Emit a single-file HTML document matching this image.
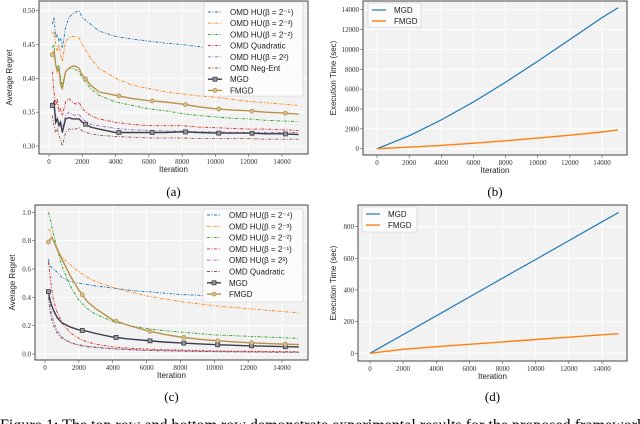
<!DOCTYPE html>
<html><head><meta charset="utf-8"><style>
html,body{margin:0;padding:0;background:#fff;}
svg{display:block;font-family:"Liberation Serif",serif;}
.tk{font-size:7px;fill:#333;}
.lab{font-family:"Liberation Sans",sans-serif;font-size:8px;fill:#222;}
.leg{font-family:"Liberation Sans",sans-serif;font-size:8px;fill:#222;}
</style></head><body>
<svg id="fig" width="640" height="424" viewBox="0 0 640 424" xmlns="http://www.w3.org/2000/svg">
<text x="0" y="430" font-size="16" textLength="645" lengthAdjust="spacingAndGlyphs">Figure 1: The top row and bottom row demonstrate experimental results for the proposed framework</text>
</svg>
<script>
// ---- Panel (a) data ----
const aX=[200,300,400,500,600,700,800,1000,1200,1400,1600,1800,2000,2500,3000,4000,5000,6000,7000,8000,9000,10000,11000,12000,13000,14000,15000];
const aHUm5=[0.48,0.49,0.46,0.465,0.455,0.46,0.445,0.475,0.49,0.495,0.498,0.50,0.49,0.48,0.47,0.462,0.458,0.455,0.452,0.45,0.447,0.444,0.441,0.438,0.435,0.43,0.428];
const aHUm3=[0.465,0.47,0.45,0.44,0.45,0.435,0.425,0.455,0.46,0.462,0.462,0.46,0.45,0.43,0.415,0.40,0.39,0.385,0.38,0.377,0.374,0.372,0.369,0.366,0.364,0.362,0.36];
const aHUm2=[0.445,0.45,0.42,0.415,0.42,0.40,0.39,0.41,0.415,0.415,0.413,0.41,0.40,0.385,0.375,0.365,0.36,0.355,0.352,0.348,0.345,0.343,0.341,0.34,0.338,0.337,0.336];
const aQuad=[0.41,0.38,0.36,0.37,0.35,0.355,0.345,0.365,0.37,0.365,0.362,0.365,0.355,0.345,0.34,0.335,0.332,0.33,0.33,0.33,0.328,0.327,0.326,0.325,0.325,0.324,0.323];
const aHU2=[0.36,0.355,0.345,0.34,0.335,0.33,0.325,0.345,0.35,0.347,0.345,0.347,0.34,0.332,0.33,0.326,0.324,0.323,0.322,0.322,0.321,0.321,0.32,0.32,0.32,0.32,0.32];
const aNeg=[0.345,0.33,0.32,0.325,0.315,0.31,0.30,0.32,0.325,0.325,0.325,0.327,0.322,0.318,0.316,0.314,0.313,0.312,0.312,0.312,0.311,0.311,0.311,0.311,0.31,0.31,0.31];
const aMGD=[0.36,0.365,0.335,0.34,0.33,0.335,0.32,0.34,0.342,0.34,0.34,0.34,0.335,0.328,0.325,0.32,0.32,0.32,0.32,0.321,0.32,0.319,0.319,0.319,0.318,0.318,0.317];
const aFMGD=[0.435,0.44,0.42,0.41,0.415,0.39,0.385,0.41,0.415,0.418,0.418,0.415,0.405,0.39,0.38,0.375,0.37,0.367,0.365,0.362,0.358,0.355,0.353,0.352,0.35,0.349,0.347];
const aYTicks=[0.30,0.35,0.40,0.45,0.50];
const aYLabels=["0.30","0.35","0.40","0.45","0.50"];
// ---- Panel (c) data ----
const cX=[200,300,400,500,700,1000,1500,2000,2500,3000,4000,5000,6000,7000,8000,9000,10000,11000,12000,13000,14000,15000];
const cHUm4=[0.67,0.62,0.61,0.6,0.58,0.54,0.51,0.5,0.49,0.48,0.465,0.45,0.44,0.43,0.42,0.415,0.41,0.405,0.40,0.395,0.392,0.39];
const cHUm3=[0.88,0.87,0.83,0.8,0.75,0.68,0.63,0.58,0.54,0.51,0.47,0.44,0.41,0.39,0.37,0.355,0.34,0.33,0.32,0.31,0.30,0.29];
const cHUm2=[1.0,0.96,0.9,0.85,0.75,0.62,0.48,0.38,0.32,0.28,0.23,0.2,0.18,0.165,0.155,0.145,0.135,0.13,0.125,0.12,0.115,0.11];
const cHUm1=[0.65,0.55,0.45,0.38,0.3,0.22,0.15,0.11,0.085,0.07,0.05,0.04,0.035,0.03,0.028,0.025,0.022,0.02,0.02,0.018,0.017,0.016];
const cHU3=[0.45,0.35,0.28,0.23,0.17,0.12,0.08,0.06,0.05,0.045,0.035,0.03,0.025,0.022,0.02,0.018,0.016,0.015,0.014,0.013,0.012,0.012];
const cQuad=[0.4,0.3,0.24,0.2,0.15,0.11,0.08,0.065,0.055,0.048,0.038,0.032,0.027,0.024,0.021,0.019,0.017,0.016,0.015,0.014,0.013,0.013];
const cMGD=[0.44,0.38,0.34,0.31,0.26,0.22,0.19,0.17,0.16,0.145,0.12,0.105,0.095,0.085,0.078,0.072,0.066,0.062,0.058,0.055,0.052,0.05];
const cFMGD=[0.79,0.81,0.82,0.8,0.74,0.67,0.55,0.45,0.37,0.32,0.24,0.2,0.165,0.14,0.12,0.105,0.095,0.087,0.08,0.075,0.07,0.066];
const cYTicks=[0,0.2,0.4,0.6,0.8,1.0];
const cYLabels=["0.0","0.2","0.4","0.6","0.8","1.0"];
// ---- Panel (b) data ----
const bX=[0,2000,4000,6000,8000,10000,12000,14000,15000];
const bMGD=[0,1300,2900,4700,6700,8800,11000,13200,14200];
const bFMGD=[0,150,330,550,800,1070,1360,1680,1900];
const bYTicks=[0,2000,4000,6000,8000,10000,12000,14000];
// ---- Panel (d) data ----
const dX=[0,2000,4000,6000,8000,10000,12000,14000,15000];
const dMGD=[0,118,237,356,475,593,712,831,890];
const dFMGD=[0,25,42,57,72,87,102,117,124];
const dYTicks=[0,200,400,600,800];
const xTicks=[0,2000,4000,6000,8000,10000,12000,14000];
const markerX=[200,2200,4200,6200,8200,10200,12200,14200];

const NS="http://www.w3.org/2000/svg";
const fig=document.getElementById('fig');
function mk(tag,attrs,parent){const e=document.createElementNS(NS,tag);for(const k in attrs)e.setAttribute(k,attrs[k]);(parent||fig).appendChild(e);return e;}
function interp(xs,ys,v){for(let i=1;i<xs.length;i++){if(v<=xs[i]){const t=(v-xs[i-1])/(xs[i]-xs[i-1]);return ys[i-1]+t*(ys[i]-ys[i-1]);}}return ys[ys.length-1];}
const C={blue:"#1f77b4",orange:"#ff7f0e",green:"#2ca02c",red:"#d62728",purple:"#9467bd",brown:"#8c564b",mgd:"#3c3c4c",fmgd:"#b8924a"};

function panel(P){
  const g=mk('g',{});
  
  
  const sx=v=>P.x0+(v-0)*(P.x14-P.x0)/14000;
  const sy=v=>P.yA+(v-P.vA)*(P.yB-P.yA)/(P.vB-P.vA);
  const bg=mk('rect',{x:P.L,y:P.T,width:P.R-P.L,height:P.B-P.T,fill:"#f2f2f2"},g);
  
  
  xTicks.forEach(t=>{
    mk('line',{x1:sx(t),x2:sx(t),y1:P.T,y2:P.B,stroke:"#fff","stroke-width":1},g);
    mk('line',{x1:sx(t),x2:sx(t),y1:P.B,y2:P.B+3,stroke:"#555","stroke-width":0.6},g);
    const tx=mk('text',{x:sx(t),y:P.B+10,"text-anchor":"middle",class:"tk"},g);tx.textContent=String(t);
    
    
  });
  P.yt.forEach((t,i)=>{
    mk('line',{x1:P.L,x2:P.R,y1:sy(t),y2:sy(t),stroke:"#fff","stroke-width":1},g);
    mk('line',{x1:P.L-3,x2:P.L,y1:sy(t),y2:sy(t),stroke:"#555","stroke-width":0.6},g);
    const tx=mk('text',{x:P.L-4,y:sy(t)+2.5,"text-anchor":"end",class:"tk"},g);tx.textContent=P.yl?P.yl[i]:String(t);
    
    
  });
  P.series.forEach(s=>{
    const d=s.x.map((v,i)=>(i?'L':'M')+sx(v).toFixed(1)+','+sy(s.y[i]).toFixed(1)).join('');
    const p=mk('path',{d:d,fill:"none",stroke:s.c,"stroke-width":s.w||0.9},g);
    if(s.dash)p.setAttribute('stroke-dasharray',"3,1.5,1,1.5");
    
    
    if(s.mk){markerX.forEach(v=>{const yv=interp(s.x,s.y,v);
      const m=mk(s.mk==='sq'?'rect':'circle',s.mk==='sq'?{x:sx(v)-2,y:sy(yv)-2,width:4,height:4,fill:"#999",stroke:s.c,"stroke-width":0.8}:{cx:sx(v),cy:sy(yv),r:2,fill:"#d8c090",stroke:s.c,"stroke-width":0.8},g);
      
      });}
  });
  const fr=mk('rect',{x:P.L,y:P.T,width:P.R-P.L,height:P.B-P.T,fill:"none",stroke:"#444","stroke-width":1},g);
  
  
  const xl=mk('text',{x:(P.L+P.R)/2,y:P.B+18,"text-anchor":"middle",class:"lab"},g);xl.textContent="Iteration";
  
  
  const yc=(P.T+P.B)/2;
  const yl=mk('text',{x:P.ylx,y:yc,"text-anchor":"middle",class:"lab",transform:`rotate(-90 ${P.ylx} ${yc})`},g);yl.textContent=P.ytitle;
  
  
  const cap=mk('text',{x:(P.L+P.R)/2,y:P.capY,"text-anchor":"middle","font-size":"13"},g);cap.textContent=P.cap;
  
  
  const lg=mk('g',{},g);
  
  
  mk('rect',{x:P.lg.x,y:P.lg.y,width:P.lg.w,height:P.lg.h,fill:"#fcfcfc",stroke:"#ccc","stroke-width":0.6,rx:1.5},lg);
  P.series.forEach((s,i)=>{
    const yy=P.lg.y+P.lg.y0+i*P.lg.dy;
    const ln=mk('line',{x1:P.lg.x+4,x2:P.lg.x+18,y1:yy,y2:yy,stroke:s.c,"stroke-width":s.w||0.9},lg);
    if(s.dash)ln.setAttribute('stroke-dasharray',"3,1.5,1,1.5");
    if(s.mk){mk(s.mk==='sq'?'rect':'circle',s.mk==='sq'?{x:P.lg.x+9,y:yy-2,width:4,height:4,fill:"#999",stroke:s.c,"stroke-width":0.8}:{cx:P.lg.x+11,cy:yy,r:2,fill:"#d8c090",stroke:s.c,"stroke-width":0.8},lg);}
    const t=mk('text',{x:P.lg.x+26,y:yy+3,class:"leg"},lg);t.textContent=s.label;
    
    
  });
}

panel({name:"panel-a",L:39,R:308,T:1,B:154,x0:49,x14:282,vA:0.50,yA:10.7,vB:0.30,yB:146,yt:aYTicks,yl:aYLabels,ylx:12,ytitle:"Average Regret",cap:"(a)",capY:196,
 lg:{x:204,y:2,w:99,h:94,y0:10,dy:11.2},
 series:[
  {id:"hu-m5",x:aX,y:aHUm5,c:C.blue,dash:1,label:"OMD HU(\u03B2 = 2\u207B\u2075)"},
  {id:"hu-m3",x:aX,y:aHUm3,c:C.orange,dash:1,label:"OMD HU(\u03B2 = 2\u207B\u00B3)"},
  {id:"hu-m2",x:aX,y:aHUm2,c:C.green,dash:1,label:"OMD HU(\u03B2 = 2\u207B\u00B2)"},
  {id:"quad",x:aX,y:aQuad,c:C.red,dash:1,label:"OMD Quadratic"},
  {id:"hu-2",x:aX,y:aHU2,c:C.purple,dash:1,label:"OMD HU(\u03B2 = 2\u00B2)"},
  {id:"negent",x:aX,y:aNeg,c:C.brown,dash:1,label:"OMD Neg-Ent"},
  {id:"mgd",x:aX,y:aMGD,c:C.mgd,w:1.4,mk:'sq',label:"MGD"},
  {id:"fmgd",x:aX,y:aFMGD,c:C.fmgd,w:1.4,mk:'ci',label:"FMGD"}]});

panel({name:"panel-c",L:35,R:308,T:205,B:360,x0:45,x14:282,vA:1.0,yA:212.3,vB:0,yB:354,yt:cYTicks,yl:cYLabels,ylx:15,ytitle:"Average Regret",cap:"(c)",capY:401,
 lg:{x:203,y:209,w:100,h:93,y0:6,dy:11.3},
 series:[
  {id:"hu-m4",x:cX,y:cHUm4,c:C.blue,dash:1,label:"OMD HU(\u03B2 = 2\u207B\u2074)"},
  {id:"hu-m3",x:cX,y:cHUm3,c:C.orange,dash:1,label:"OMD HU(\u03B2 = 2\u207B\u00B3)"},
  {id:"hu-m2",x:cX,y:cHUm2,c:C.green,dash:1,label:"OMD HU(\u03B2 = 2\u207B\u00B2)"},
  {id:"hu-m1",x:cX,y:cHUm1,c:C.red,dash:1,label:"OMD HU(\u03B2 = 2\u207B\u00B9)"},
  {id:"hu-3",x:cX,y:cHU3,c:C.purple,dash:1,label:"OMD HU(\u03B2 = 2\u00B3)"},
  {id:"quad",x:cX,y:cQuad,c:C.brown,dash:1,label:"OMD Quadratic"},
  {id:"mgd",x:cX,y:cMGD,c:C.mgd,w:1.4,mk:'sq',label:"MGD"},
  {id:"fmgd",x:cX,y:cFMGD,c:C.fmgd,w:1.4,mk:'ci',label:"FMGD"}]});

panel({name:"panel-b",L:363,R:627,T:1,B:155,x0:377,x14:602,vA:14000,yA:9.7,vB:0,yB:148.7,yt:bYTicks,ylx:336,ytitle:"Execution Time (sec)",cap:"(b)",capY:196,
 lg:{x:368,y:3,w:53,h:24,y0:7,dy:11},
 series:[
  {id:"mgd",x:bX,y:bMGD,c:C.blue,w:1.2,label:"MGD"},
  {id:"fmgd",x:bX,y:bFMGD,c:C.orange,w:1.4,label:"FMGD"}]});

panel({name:"panel-d",L:358,R:627,T:205,B:361,x0:370,x14:602,vA:800,yA:226.7,vB:0,yB:353.3,yt:dYTicks,ylx:336,ytitle:"Execution Time (sec)",cap:"(d)",capY:401,
 lg:{x:362,y:207,w:55,h:25,y0:7,dy:11},
 series:[
  {id:"mgd",x:dX,y:dMGD,c:C.blue,w:1.2,label:"MGD"},
  {id:"fmgd",x:dX,y:dFMGD,c:C.orange,w:1.4,label:"FMGD"}]});
</script>
</body></html>
